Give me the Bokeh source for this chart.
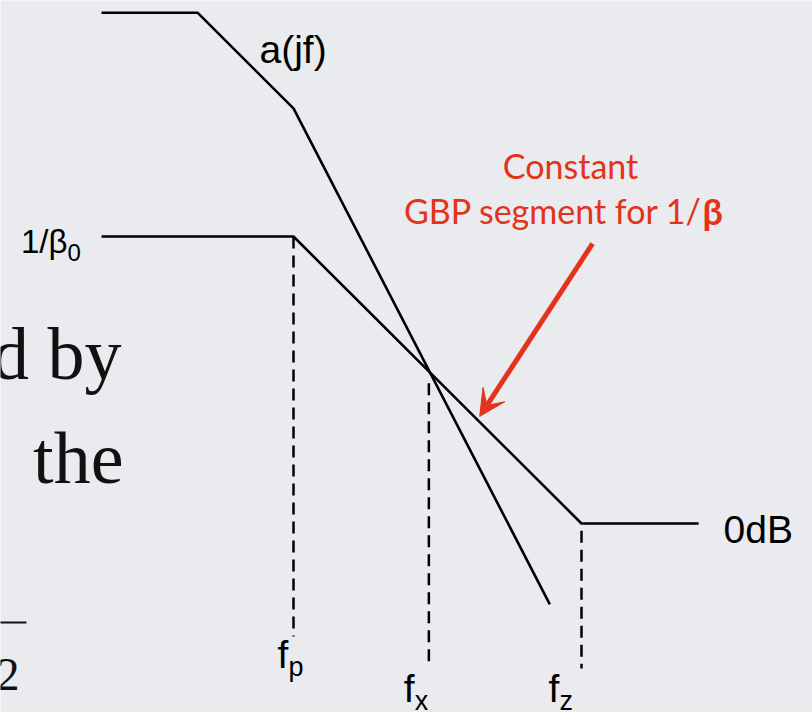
from bokeh.plotting import figure
from bokeh.models import Range1d, Arrow, VeeHead
from bokeh.core.properties import value
from bokeh.embed import file_html
from bokeh.resources import INLINE

# Asymptotic Bode magnitude plots: x is log10(frequency) in decades, y is dB
a_logf = [0.0, 1.0, 2.0, 4.67]
a_db = [106.8, 106.8, 86.8, -16.9]

beta_logf = [0.0, 2.0, 5.0, 6.22]
beta_db = [60.0, 60.0, 0.0, 0.0]

# marked frequencies f_p, f_x, f_z and the extent of their drop lines
freq_subs = ["p", "x", "z"]
freq_logf = [2.0, 3.41, 5.0]
freq_top_db = [60.0, 29.3, -1.5]
freq_bottom_db = [-23.6, -30.1, -30.3]

# annotation arrow pointing at the -20 dB/dec part of 1/beta
arrow_logf = [5.115, 3.94]
arrow_db = [58.5, 22.4]

W, H = 812, 712
PX_PER_DEC = 96.0
PX_PER_DB = 4.783
X0_PX, Y0_PX = 101.0, 523.0


def px_to_data(px, py):
    return (px - X0_PX) / PX_PER_DEC, (Y0_PX - py) / PX_PER_DB


def lift(dy, size):
    # the svg text sits a bit below its alphabetic anchor; pull it back up
    return dy - round(0.34 * size)


x_lo, y_lo = px_to_data(0, H)
x_hi, y_hi = px_to_data(W, 0)

BG = "#e9ebee"
RED = "#e4321b"
SANS = value("Liberation Sans")

p = figure(width=W, height=H, output_backend="svg", toolbar_location=None,
           x_axis_type=None, y_axis_type=None, min_border=0,
           x_range=Range1d(x_lo, x_hi), y_range=Range1d(y_lo, y_hi))
p.grid.visible = False
p.outline_line_color = None
p.background_fill_color = BG
p.border_fill_color = BG

# curves
p.line(a_logf, a_db, line_color="black", line_width=2.6)
p.line(beta_logf, beta_db, line_color="black", line_width=2.6)

# dashed drop lines
p.segment(x0=freq_logf, y0=freq_top_db, x1=freq_logf, y1=freq_bottom_db,
          line_color="black", line_width=2.5, line_dash="12 7")

# frequency labels: "f" plus a subscript
F_SIZE, SUB_SIZE = 39, 27
f_dx = [-16, -25, -33]
f_dy = [31, 34, 33]
p.text(x=freq_logf, y=freq_bottom_db, text=["f"] * 3, x_offset=f_dx,
       y_offset=[lift(d, F_SIZE) for d in f_dy],
       text_font=SANS, text_font_size=f"{F_SIZE}px", text_color="black",
       text_align="left", text_baseline="alphabetic")
p.text(x=freq_logf, y=freq_bottom_db, text=freq_subs,
       x_offset=[d + 11 for d in f_dx], y_offset=[lift(d + 9, SUB_SIZE) for d in f_dy],
       text_font=SANS, text_font_size=f"{SUB_SIZE}px", text_color="black",
       text_align="left", text_baseline="alphabetic")

# curve labels
p.text(x=[(a_logf[1] + a_logf[2]) / 2], y=[(a_db[1] + a_db[2]) / 2], text=["a(jf)"],
       x_offset=14, y_offset=lift(2, 39), text_font=SANS, text_font_size="39px",
       text_color="black", text_align="left", text_baseline="alphabetic")
p.text(x=[beta_logf[0]], y=[beta_db[0]], text=["1/β"], x_offset=-34, y_offset=lift(16, 33),
       text_font=SANS, text_font_size="33px", text_color="black",
       text_align="right", text_baseline="alphabetic")
p.text(x=[beta_logf[0]], y=[beta_db[0]], text=["0"], x_offset=-34, y_offset=lift(24, 24),
       text_font=SANS, text_font_size="24px", text_color="black",
       text_align="left", text_baseline="alphabetic")
p.text(x=[beta_logf[-1]], y=[beta_db[-1]], text=["0dB"], x_offset=25, y_offset=lift(19, 39),
       text_font=SANS, text_font_size="39px", text_color="black",
       text_align="left", text_baseline="alphabetic")

# red annotation
p.add_layout(Arrow(end=VeeHead(size=26, fill_color=RED, line_color=RED),
                   x_start=arrow_logf[0], y_start=arrow_db[0],
                   x_end=arrow_logf[1], y_end=arrow_db[1],
                   line_color=RED, line_width=5))
RED_FONT = value("Lato")
p.text(x=[arrow_logf[0]], y=[arrow_db[0]], text=["Constant"], x_offset=-22,
       y_offset=lift(-66, 34), text_font=RED_FONT, text_font_size="34px", text_color=RED,
       text_align="center", text_baseline="alphabetic")
p.text(x=[arrow_logf[0]], y=[arrow_db[0]], text=["GBP segment for 1/"], x_offset=110,
       y_offset=lift(-21, 34), text_font=RED_FONT, text_font_size="34px", text_color=RED,
       text_align="right", text_baseline="alphabetic")
p.text(x=[arrow_logf[0]], y=[arrow_db[0]], text=["β"], x_offset=110, y_offset=lift(-21, 36),
       text_font=RED_FONT, text_font_size="36px", text_font_style="bold",
       text_color=RED, text_align="left", text_baseline="alphabetic")

# fragments of the slide's body text at the left edge
SERIF = value("Liberation Serif")
for txt, (px, py), size in [("d by", (121, 378), 74), ("the", (123, 482), 74),
                            ("2", (19, 690), 46)]:
    tx, ty = px_to_data(px, py)
    p.text(x=[tx], y=[ty], text=[txt], y_offset=lift(0, size), text_font=SERIF,
           text_font_size=f"{size}px", text_color="#111111", text_align="right",
           text_baseline="alphabetic")
bx0, by = px_to_data(-2, 622)
bx1, _ = px_to_data(26, 622)
p.segment(x0=[bx0], y0=[by], x1=[bx1], y1=[by], line_color="#111111", line_width=2)

open("out.html", "w").write(file_html(p, INLINE))
